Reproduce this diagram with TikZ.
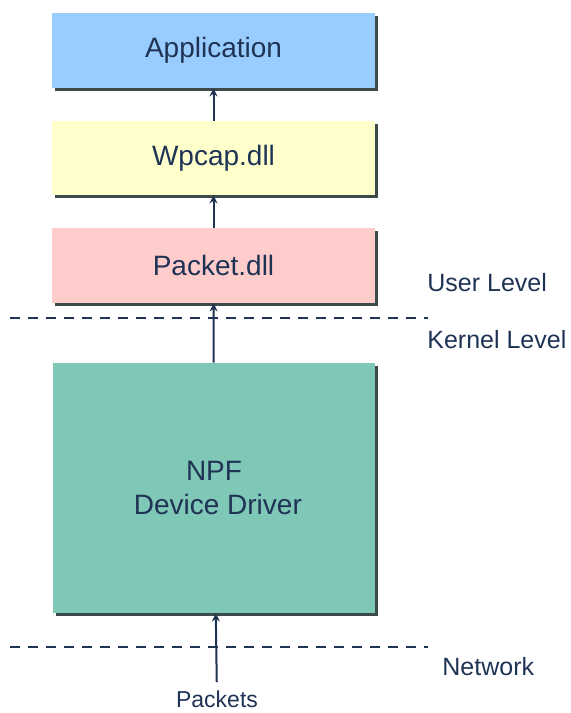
\documentclass[tikz,border=0pt]{standalone}
\usepackage{fontspec}
\setmainfont{Liberation Sans}
\usepackage{xcolor}
\usepackage{tikz}
\usetikzlibrary{arrows.meta,positioning,shadows}
\definecolor{inkblue}{HTML}{1F3355}
\definecolor{appblue}{HTML}{99CCFF}
\definecolor{wpcapyellow}{HTML}{FFFFCC}
\definecolor{packetpink}{HTML}{FFCCCC}
\definecolor{npfgreen}{HTML}{7FC7B6}
\definecolor{shadowgray}{HTML}{3C4A4A}
\tikzset{% 
  layer box/.style={%
    inner sep=0pt,
    minimum width=161.5pt,
    minimum height=37.5pt,
    text=inkblue,
    font=\fontsize{14}{17}\selectfont,
    align=center,
    drop shadow={shadow xshift=1.5pt,shadow yshift=-1.5pt,opacity=1,fill=shadowgray}
  }
}
\tikzset{% 
  level line/.style={%
    draw=inkblue,
    line width=1pt,
    dash pattern=on 5pt off 4pt
  }
}
\tikzset{% 
  data flow/.style={%
    draw=inkblue,
    line width=1pt,
    -{Stealth[length=4pt,width=4pt]}
  }
}
\tikzset{% 
  side label/.style={%
    text=inkblue,
    inner sep=0pt,
    anchor=west,
    font=\fontsize{12.5}{15}\selectfont
  }
}

\begin{document}
\begin{tikzpicture}[x=0.5pt,y=-0.5pt]
  \useasboundingbox (0,0) rectangle (571,713);
  \node [layer box,fill=appblue] (app) at (213.5, 50.5) {Application};
  \node [layer box,fill=wpcapyellow,minimum height=37pt] (wpcap) at (213.5, 158) {Wpcap.dll};
  \node [layer box,fill=packetpink] (packet) at (213.5, 265.5) {Packet.dll};
  \node [layer box,fill=npfgreen,minimum width=161pt,minimum height=125pt] (npf) at (214, 488) {NPF\\ \ Device Driver};
  \node [text=inkblue,inner sep=2pt,font=\fontsize{11.5}{14}\selectfont] (packets) at (217, 699) {Packets};
  \node [side label] (user) at (427, 283) {User Level};
  \node [side label] (kernel) at (427, 340) {Kernel Level};
  \node [side label] (network) at (442, 667) {Network};
  \coordinate (ul left) at (10, 318);
  \coordinate (ul right) at (428, 318);
  \coordinate (net left) at (10, 647);
  \coordinate (net right) at (428, 647);
  \draw [level line] (ul left) -- (ul right);
  \draw [level line] (net left) -- (net right);
  \draw [data flow,shorten <=2pt] (packets) -- (npf);
  \draw [data flow] (npf) -- (packet);
  \draw [data flow] (packet) -- (wpcap);
  \draw [data flow] (wpcap) -- (app);
\end{tikzpicture}
\end{document}
